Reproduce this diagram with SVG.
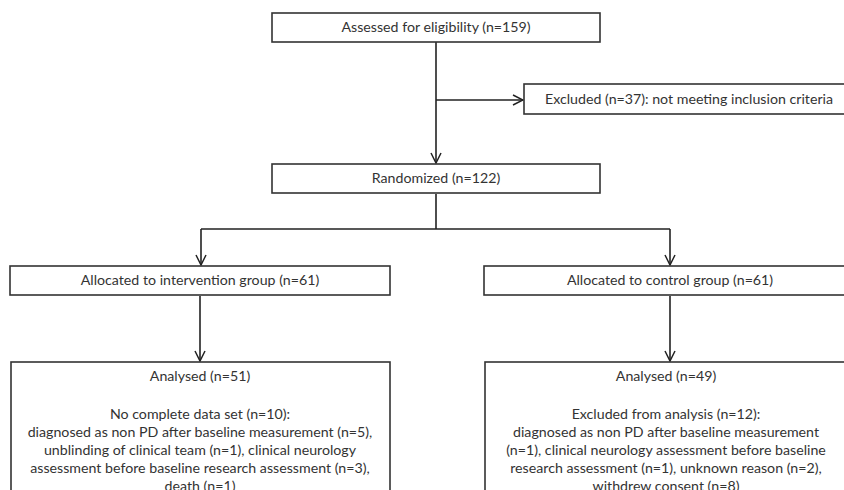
<svg xmlns="http://www.w3.org/2000/svg" width="844" height="490" viewBox="0 0 844 490">
<defs>
<marker id="arr" viewBox="0 0 12 12" refX="11" refY="6" markerWidth="12" markerHeight="12" markerUnits="userSpaceOnUse" orient="auto">
<path d="M1,1 L11,6 L1,11" fill="none" stroke="#222" stroke-width="1.5"/>
</marker>
<style>
.box{fill:#fff;stroke:#333;stroke-width:1.6}
.t{font-family:Lato,"Open Sans","Liberation Sans",sans-serif;font-size:14.2px;fill:#333;text-anchor:middle}
.c{fill:none;stroke:#222;stroke-width:1.6}
</style>
</defs>
<rect width="844" height="490" fill="#fff"/>
<g id="connectors">
<path class="c" d="M436,42 V163" marker-end="url(#arr)"/>
<path class="c" d="M436,100 H523" marker-end="url(#arr)"/>
<path class="c" d="M436,194 V229 M201,229 H670"/>
<path class="c" d="M201,229 V265" marker-end="url(#arr)"/>
<path class="c" d="M670,229 V265" marker-end="url(#arr)"/>
<path class="c" d="M200,296 V361" marker-end="url(#arr)"/>
<path class="c" d="M670,296 V361" marker-end="url(#arr)"/>
</g>
<g id="assessed">
<rect class="box" x="272" y="13" width="328" height="29"/>
<text class="t" x="436" y="32">Assessed for eligibility (n=159)</text>
</g>
<g id="excluded">
<rect class="box" x="524" y="84" width="340" height="30"/>
<text class="t" x="689" y="104">Excluded (n=37): not meeting inclusion criteria</text>
</g>
<g id="randomized">
<rect class="box" x="272" y="164" width="328" height="29"/>
<text class="t" x="436" y="183">Randomized (n=122)</text>
</g>
<g id="alloc-intervention">
<rect class="box" x="10" y="266" width="380" height="29"/>
<text class="t" x="200" y="285">Allocated to intervention group (n=61)</text>
</g>
<g id="alloc-control">
<rect class="box" x="484" y="266" width="380" height="29"/>
<text class="t" x="670" y="285">Allocated to control group (n=61)</text>
</g>
<g id="analysed-intervention">
<rect class="box" x="11" y="362" width="379" height="140"/>
<text class="t" x="200" y="381">Analysed (n=51)</text>
<text class="t" x="200" y="419">No complete data set (n=10):</text>
<text class="t" x="200" y="437">diagnosed as non PD after baseline measurement (n=5),</text>
<text class="t" x="200" y="455">unblinding of clinical team (n=1), clinical neurology</text>
<text class="t" x="200" y="473">assessment before baseline research assessment (n=3),</text>
<text class="t" x="200" y="491">death (n=1)</text>
</g>
<g id="analysed-control">
<rect class="box" x="485" y="362" width="380" height="140"/>
<text class="t" x="666" y="381">Analysed (n=49)</text>
<text class="t" x="666" y="419">Excluded from analysis (n=12):</text>
<text class="t" x="666" y="437">diagnosed as non PD after baseline measurement</text>
<text class="t" x="666" y="455">(n=1), clinical neurology assessment before baseline</text>
<text class="t" x="666" y="473">research assessment (n=1), unknown reason (n=2),</text>
<text class="t" x="666" y="491">withdrew consent (n=8)</text>
</g>
</svg>
